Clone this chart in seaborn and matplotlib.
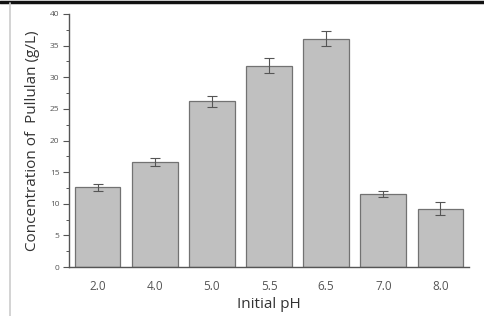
import numpy as np
import pandas as pd
import matplotlib
matplotlib.use("Agg")
import matplotlib.pyplot as plt
from matplotlib.lines import Line2D
from matplotlib.ticker import MultipleLocator
import seaborn as sns

ph_labels = ["2.0", "4.0", "5.0", "5.5", "6.5", "7.0", "8.0"]
pullulan = [12.6, 16.6, 26.2, 31.8, 36.1, 11.5, 9.2]
errors = [0.6, 0.7, 0.9, 1.2, 1.2, 0.5, 1.0]

sns.set_theme(style="white")
plt.rcParams["font.family"] = ["Open Sans", "DejaVu Sans"]

df = pd.DataFrame({"pH": ph_labels, "conc": pullulan})

fig = plt.figure(figsize=(4.84, 3.16), dpi=100)
ax = fig.add_axes([0.1426, 0.155, 0.969 - 0.1426, 0.9557 - 0.155])

sns.barplot(data=df, x="pH", y="conc", order=ph_labels, color="#c0c0c0",
            saturation=1, width=0.8, edgecolor="#727272", linewidth=0.9,
            errorbar=None, ax=ax)
ax.errorbar(np.arange(len(ph_labels)), pullulan, yerr=errors, fmt="none",
            ecolor="#555555", elinewidth=0.8, capsize=3.3, capthick=0.8)

ax.set_xlim(-0.5, len(ph_labels) - 0.5)
ax.set_ylim(0, 40)
ax.yaxis.set_major_locator(MultipleLocator(5))
ax.yaxis.set_minor_locator(MultipleLocator(2.5))

for s in ["top", "right"]:
    ax.spines[s].set_visible(False)
for s in ["left", "bottom"]:
    ax.spines[s].set_color("#555555")
    ax.spines[s].set_linewidth(1.0)

ax.tick_params(axis="y", which="major", direction="out", length=4, width=0.8,
               color="#555555", labelsize=6, labelcolor="#555555", pad=3, left=True)
ax.tick_params(axis="y", which="minor", direction="out", length=2.5, width=0.7,
               color="#555555", left=True)
ax.tick_params(axis="x", which="major", length=0, labelsize=8.5, labelcolor="#555555", pad=9)

ax.set_xlabel("Initial pH", fontsize=11, color="#333333", labelpad=3)
ax.set_ylabel("Concentration of  Pullulan (g/L)", fontsize=11, color="#333333", labelpad=7)

# frame decorations of the source image
fig.add_artist(Line2D([0, 1], [0.995, 0.995], transform=fig.transFigure,
                      color="#111111", linewidth=2.5))
fig.add_artist(Line2D([0.021, 0.021], [0, 0.99], transform=fig.transFigure,
                      color="#cccccc", linewidth=1.2))

fig.savefig("out.png", dpi=100)
